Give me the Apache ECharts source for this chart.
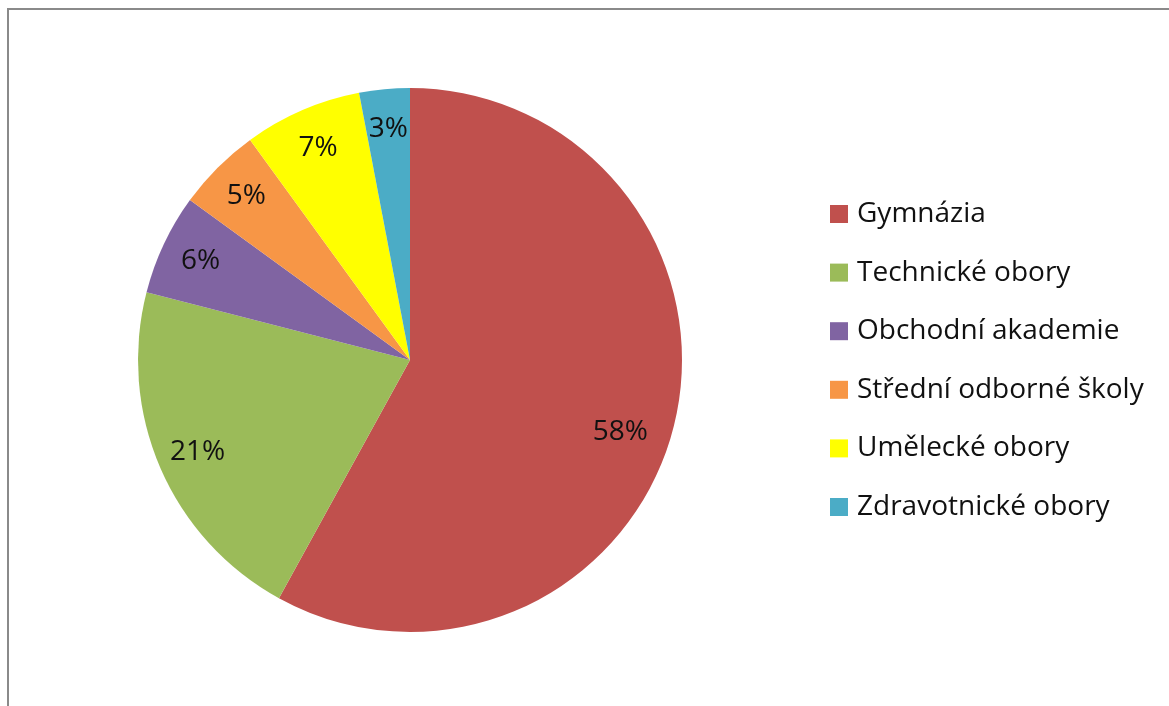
<!DOCTYPE html>
<html>
<head>
<meta charset="utf-8">
<script src="https://cdn.jsdelivr.net/npm/echarts@6/dist/echarts.min.js"></script>
<style>
  html, body { margin: 0; padding: 0; background: #fff; }
  #main { width: 1169px; height: 706px; }
</style>
</head>
<body>
<div id="main"></div>
<script>
var categories = ['Gymnázia', 'Technické obory', 'Obchodní akademie', 'Střední odborné školy', 'Umělecké obory', 'Zdravotnické obory'];
var shares = [58, 21, 6, 5, 7, 3];
var colors = ['#C0504D', '#9BBB59', '#8064A2', '#F79646', '#FFFF00', '#4BACC6'];

var myChart = echarts.init(document.getElementById('main'));

var pieData = categories.map(function (name, i) {
    return { name: name, value: shares[i], itemStyle: { color: colors[i] } };
});

// second transparent ring only carries the labels, so they sit near the rim like the original
var labelData = categories.map(function (name, i) {
    var item = { name: name, value: shares[i] };
    if (i === 0) {
        // excel put the big slice's label a bit lower / inward
        item.label = { offset: [-14, 14] };
    }
    return item;
});

var option = {
    animation: false,
    textStyle: { fontFamily: 'Open Sans' },
    graphic: [{
        type: 'rect',
        shape: { x: 8, y: 9, width: 1200, height: 760 },
        style: { fill: 'none', stroke: '#8a8a8a', lineWidth: 2 },
        silent: true
    }],
    legend: {
        orient: 'vertical',
        left: 825,
        top: 195,
        data: categories,
        icon: 'rect',
        itemWidth: 18,
        itemHeight: 18,
        itemGap: 30.6,
        textStyle: { fontFamily: 'Open Sans', fontSize: 28, color: '#111', lineHeight: 27, padding: [0, 0, 0, 4] }
    },
    series: [
        {
            type: 'pie',
            center: [410, 360],
            radius: 272,
            startAngle: 90,
            data: pieData,
            label: { show: false },
            labelLine: { show: false },
            silent: true
        },
        {
            type: 'pie',
            center: [410, 360],
            radius: [185, 272],
            startAngle: 90,
            data: labelData,
            itemStyle: { color: 'transparent' },
            label: {
                show: true,
                position: 'inside',
                formatter: '{c}%',
                fontFamily: 'Open Sans',
                fontSize: 28,
                color: '#111'
            },
            labelLine: { show: false },
            silent: true
        }
    ]
};

myChart.setOption(option);
</script>
</body>
</html>
